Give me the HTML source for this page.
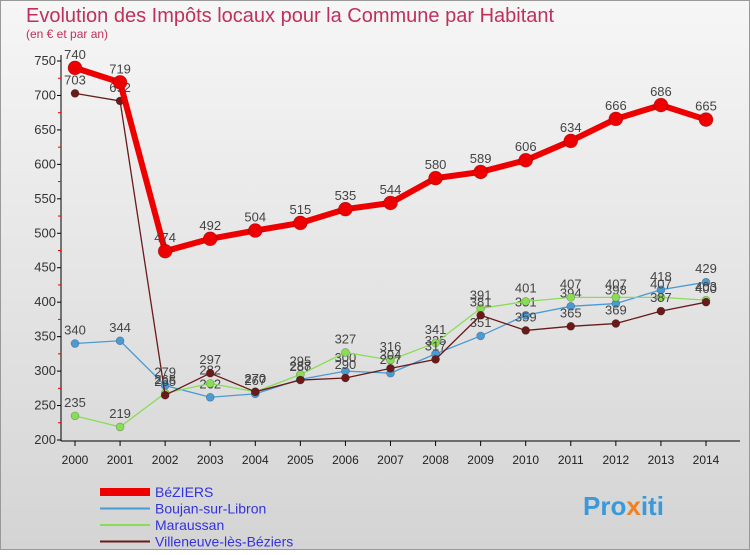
<!DOCTYPE html>
<html><head><meta charset="utf-8"><style>
body{margin:0;width:750px;height:550px;overflow:hidden;font-family:"Liberation Sans",sans-serif}
</style></head><body>
<svg id="c" width="750" height="550" xmlns="http://www.w3.org/2000/svg">
<defs><linearGradient id="bg" x1="0" y1="0" x2="0" y2="1"><stop offset="0" stop-color="#f6f6f6"/><stop offset="1" stop-color="#d4d4d4"/></linearGradient></defs>
<rect x="0.5" y="0.5" width="749" height="549" fill="url(#bg)" stroke="#999"/>
<text x="26" y="22" font-size="20" fill="#c0305a">Evolution des Impôts locaux pour la Commune par Habitant</text>
<text x="26" y="38" font-size="12" fill="#c0305a">(en € et par an)</text>
<g id="axes"></g><g id="series"></g><g id="legend"></g>
<text x="583" y="515" font-size="26" font-weight="bold" fill="#3a9ad9">Pro<tspan fill="#f08020">x</tspan>iti</text>
</svg>
<script>
const years=[2000,2001,2002,2003,2004,2005,2006,2007,2008,2009,2010,2011,2012,2013,2014];
const beziers=[740,719,474,492,504,515,535,544,580,589,606,634,666,686,665];
const boujan=[340,344,279,262,267,288,300,297,325,351,381,394,398,418,429];
const maraussan=[235,219,268,282,270,295,327,316,341,391,401,407,407,407,403];
const villeneuve=[703,692,265,297,270,287,290,304,317,381,359,365,369,387,400];
const yTicks=[200,250,300,350,400,450,500,550,600,650,700,750];
const NS='http://www.w3.org/2000/svg';
const x=i=>75+i*(706-75)/14;
const y=v=>440-(v-200)*(440-61)/550;
function mk(t,a,p){const e=document.createElementNS(NS,t);for(const k in a)e.setAttribute(k,a[k]);p.appendChild(e);return e;}
const ax=document.getElementById('axes');
const yl=mk('line',{x1:61,y1:55,x2:61,y2:441,stroke:'#000'},ax);


const xl=mk('line',{x1:61,y1:441,x2:740,y2:441,stroke:'#000'},ax);


yTicks.forEach(v=>{mk('line',{x1:57,y1:y(v),x2:61,y2:y(v),stroke:'#000'},ax);
 if(v<750)mk('line',{x1:58,y1:y(v+25),x2:61,y2:y(v+25),stroke:'#e00'},ax);
 const t=mk('text',{x:56,y:y(v)+4,'font-size':13,'text-anchor':'end',fill:'#333'},ax);t.textContent=v;
 
 });
years.forEach((yr,i)=>{mk('line',{x1:x(i),y1:441,x2:x(i),y2:446,stroke:'#000'},ax);
 const t=mk('text',{x:x(i),y:464,'font-size':12,'text-anchor':'middle',fill:'#222'},ax);t.textContent=yr;
 
 });
const S=[{d:boujan,c:'#4a9ad4',w:1.3,r:4,n:'Boujan-sur-Libron',id:'boujan'},
{d:maraussan,c:'#88dd55',w:1.3,r:4,n:'Maraussan',id:'maraussan'},
{d:villeneuve,c:'#6b1a1a',w:1.3,r:4,n:'Villeneuve-lès-Béziers',id:'villeneuve'},
{d:beziers,c:'#ee0000',w:6,r:7,n:'BéZIERS',id:'beziers'}];
const sg=document.getElementById('series');
S.forEach(s=>{const g=mk('g',{},sg);
 
 
 mk('polyline',{points:s.d.map((v,i)=>x(i)+','+y(v)).join(' '),fill:'none',stroke:s.c,'stroke-width':s.w},g);
 s.d.forEach((v,i)=>{const p=mk('circle',{cx:x(i),cy:y(v),r:s.r,fill:s.c,stroke:'rgba(0,0,0,0.3)','stroke-width':0.6},g);
  
  
  const t=mk('text',{x:x(i),y:y(v)-9,'font-size':13,'text-anchor':'middle',fill:'#444'},g);t.textContent=v;
  
  });});
const lg=document.getElementById('legend');
[S[3],S[0],S[1],S[2]].forEach((s,k)=>{const g=mk('g',{},lg);
 
 
 const yy=492+k*16.5;
 mk('line',{x1:100,y1:yy,x2:150,y2:yy,stroke:s.c,'stroke-width':s.id==='beziers'?8:2},g);
 const t=mk('text',{x:155,y:yy+5,'font-size':14,fill:'#3333dd'},g);t.textContent=s.n;});
</script>
</body></html>
